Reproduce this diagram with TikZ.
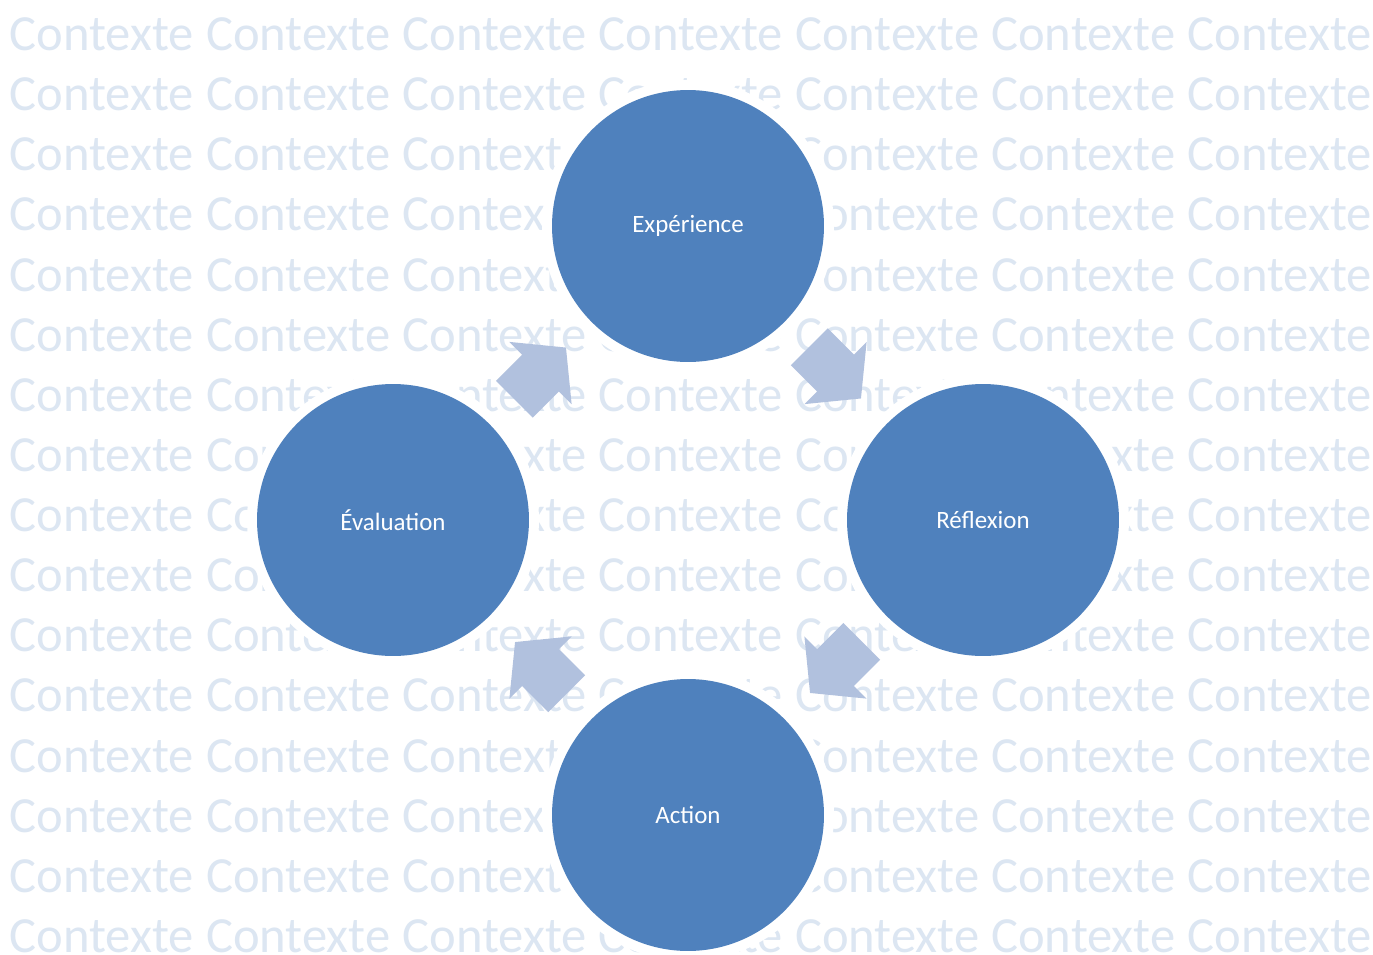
\documentclass[tikz,border=0pt]{standalone}
\usepackage{fontspec}
\setmainfont{Carlito}
\usetikzlibrary{calc}
\definecolor{bleucercle}{RGB}{79,129,189}
\definecolor{bleufleche}{RGB}{177,193,222}
\definecolor{bleufond}{RGB}{220,230,242}

\begin{document}
\begin{tikzpicture}[x=0.02cm,y=-0.02cm,
	etape/.style={circle, fill=bleucercle, text=white, minimum size=5.44cm, inner sep=0pt, outer sep=0pt,
		font=\fontsize{14.2}{17}\selectfont, preaction={draw=white, line width=0.4cm}},
	fleche/.style={fill=bleufleche},
	fond/.style={text=bleufond, anchor=base west, inner sep=0pt, font=\fontsize{28.8}{34}\selectfont}]
			\fill[white] (0,0) rectangle (1373,954);
			\useasboundingbox (0,0) rectangle (1373,954);
			
			% le contexte en fond
			\foreach \r in {0,...,15}
			\foreach \c in {0,...,6}
			\node[fond] (fond-\r-\c) at ({9.5+196.3*\c},{50.5+60.13*\r}) {Contexte};
			
			\node[etape] (experience) at (688,226) {Expérience};
			\node[etape] (reflexion) at (983,520) {Réflexion};
			\node[etape] (action) at (688,815) {Action};
			\node[etape] (evaluation) at (393,520) {Évaluation};
			
			% fleches du cycle
			\foreach \a/\b/\ang in {evaluation/experience/45, experience/reflexion/-45, reflexion/action/-135, action/evaluation/135}
			\fill[fleche, shift={($(\a)!.5!(\b)$)}, rotate=\ang] (-0.74cm,-0.52cm) -- (0,-0.52cm) -- (0,-0.88cm) -- (0.72cm,0) -- (0,0.88cm) -- (0,0.52cm) -- (-0.74cm,0.52cm) -- cycle;
			\end{tikzpicture}
\end{document}
